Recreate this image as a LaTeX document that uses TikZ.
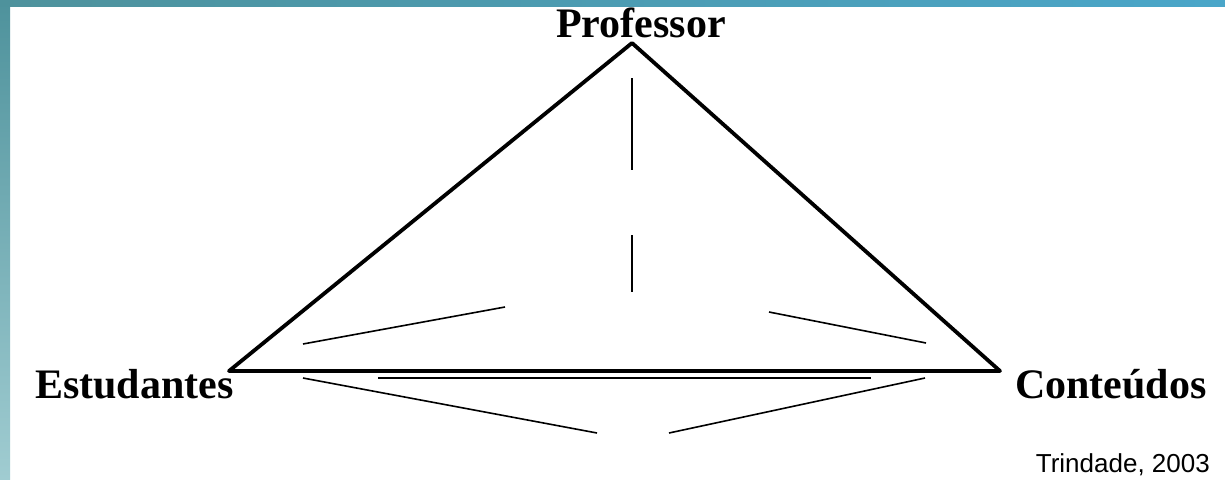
\documentclass[tikz,border=0pt]{standalone}
\usepackage{fontspec}
\setmainfont{Liberation Serif}
\newfontfamily\citefont{Liberation Sans}
\usepackage{tikz}
\definecolor{FrameTeal} {RGB}{78, 146, 156}
\definecolor{FrameLight}{RGB}{160, 204, 209}
\definecolor{FrameBlue} {RGB}{74, 166, 201}

\begin{document}
\begin{tikzpicture}[
  x=1pt, y=-1pt,
  vertex/.style={
    inner sep=0pt,
    font=\fontsize{42}{48}\selectfont\bfseries},
  side/.style={
    line width=3.8pt, line join=round,
    line cap=round},
  trace/.style={
    line width=1.6pt},
  credit/.style={
    inner sep=0pt,
    font=\citefont\fontsize{26}{30}\selectfont}
]

\useasboundingbox (0,0) rectangle (1225,479);
\fill[white] (0,0) rectangle (1225,479);
\shade[top color=FrameTeal, bottom color=FrameLight]
  (0,0) rectangle (10,479);
\shade[left color=FrameTeal, right color=FrameBlue]
  (0,0) rectangle (1225,6);

% vertices of the triangle
\coordinate (prof) at (632,43);
\coordinate (est)  at (229,371);
\coordinate (cont) at (1000,371);

\draw[side] (est) -- (prof) -- (cont) -- cycle;

% inner traces
\coordinate (v1a) at (632,78);
\coordinate (v1b) at (632,170);
\coordinate (v2a) at (632,235);
\coordinate (v2b) at (632,292);
\coordinate (la)  at (303,344);
\coordinate (lb)  at (505,307);
\coordinate (ra)  at (769,312);
\coordinate (rb)  at (926,343);
\coordinate (ba)  at (378,378);
\coordinate (bb)  at (871,378);
\coordinate (lla) at (303,378);
\coordinate (llb) at (597,433);
\coordinate (rra) at (925,378);
\coordinate (rrb) at (669,433);

\draw[trace] (v1a) -- (v1b);
\draw[trace] (v2a) -- (v2b);
\draw[trace] (la) -- (lb);
\draw[trace] (ra) -- (rb);
\draw[trace] (ba) -- (bb);
\draw[trace] (lla) -- (llb);
\draw[trace] (rra) -- (rrb);

\node[vertex, anchor=base] (lprof)
  at (641,37) {Professor};
\node[vertex, anchor=base west] (lest)
  at (35,398) {Estudantes};
\node[vertex, anchor=base west] (lcont)
  at (1015,398) {Conteúdos};
\node[credit, anchor=base east] (cite)
  at (1210,472) {Trindade, 2003};

\end{tikzpicture}
\end{document}
